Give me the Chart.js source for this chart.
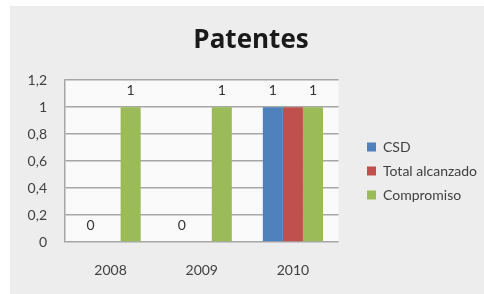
<!DOCTYPE html>
<html lang="es">
<head>
    <meta charset="UTF-8">
    <title>Patentes</title>
    <script src="https://cdn.jsdelivr.net/npm/chart.js"></script>
    <style>
        body {
            margin: 0;
            background: #ffffff;
        }
        .panel {
            position: absolute;
            left: 10px;
            top: 6px;
            width: 474px;
            height: 288px;
            background: #ededed;
        }
    </style>
</head>
<body>
    <div class="panel">
        <canvas id="patentesChart" width="474" height="288"></canvas>
    </div>

    <script>
        // Datos
        const anios = ['2008', '2009', '2010'];
        const csd = [0, 0, 1];
        const totalAlcanzado = [0, 0, 1];
        const compromiso = [1, 1, 1];

        const fuente = 'Lato, "Open Sans", sans-serif';

        // fondo claro del area de trazado
        const fondoArea = {
            id: 'fondoArea',
            beforeDraw(chart) {
                const a = chart.chartArea;
                const ctx = chart.ctx;
                ctx.save();
                ctx.fillStyle = '#fafafa';
                ctx.fillRect(a.left, a.top, a.right - a.left, a.bottom - a.top);
                ctx.restore();
            }
        };

        // etiquetas de valor encima de las barras
        const etiquetas = {
            id: 'etiquetas',
            afterDatasetsDraw(chart) {
                const ctx = chart.ctx;
                ctx.save();
                ctx.font = '14px ' + fuente;
                ctx.fillStyle = '#333333';
                ctx.textAlign = 'center';
                ctx.textBaseline = 'middle';
                chart.data.datasets.forEach((ds, i) => {
                    if (!ds.mostrarValor) return;
                    chart.getDatasetMeta(i).data.forEach((bar, j) => {
                        ctx.fillText(String(ds.data[j]), bar.x, bar.y - 17);
                    });
                });
                ctx.restore();
            }
        };

        // mover leyenda y titulo como en el original
        const mover = {
            id: 'mover',
            afterLayout(chart) {
                const l = chart.legend;
                const area = chart.chartArea;
                const dx = 357 - (area.right + 10) - (l.left - area.right);
                l.left += dx;
                l.right = chart.width;
                l.width = l.right - l.left;
                l.top += 21; l.bottom += 21;
                const t = chart.titleBlock;
                const tx = 241 - (t.left + t.right) / 2;
                t.left += tx; t.right += tx;
            }
        };

        const ctx = document.getElementById('patentesChart').getContext('2d');
        const patentesChart = new Chart(ctx, {
            type: 'bar',
            data: {
                labels: anios,
                datasets: [
                    { label: 'CSD', data: csd, backgroundColor: '#4f81bd', mostrarValor: true },
                    { label: 'Total alcanzado', data: totalAlcanzado, backgroundColor: '#c0504d', mostrarValor: false },
                    { label: 'Compromiso', data: compromiso, backgroundColor: '#9bbb59', mostrarValor: true }
                ]
            },
            options: {
                responsive: false,
                animation: false,
                categoryPercentage: 0.66,
                barPercentage: 1,
                layout: { padding: { left: 0, right: 36, top: 0, bottom: 0 } },
                plugins: {
                    title: {
                        display: true,
                        text: 'Patentes',
                        color: '#1a1a1a',
                        font: { family: '"Open Sans", sans-serif', size: 26, weight: 'bold' },
                        padding: { top: 19, bottom: 24 }
                    },
                    legend: {
                        position: 'right',
                        labels: {
                            boxWidth: 9,
                            boxHeight: 9,
                            padding: 10,
                            color: '#404040',
                            font: { family: fuente, size: 14 }
                        }
                    },
                    tooltip: { enabled: false }
                },
                scales: {
                    x: {
                        afterFit(s) { s.height = 52; },
                        grid: { display: false, drawTicks: false },
                        border: { display: false },
                        ticks: { color: '#404040', padding: 20, font: { family: fuente, size: 14 } }
                    },
                    y: {
                        min: 0,
                        max: 1.2,
                        afterFit(s) { s.width = 55; },
                        grid: { color: '#a6a6a6', lineWidth: 1.5, drawTicks: false },
                        border: { color: '#a6a6a6', width: 1.5 },
                        ticks: {
                            stepSize: 0.2,
                            padding: 18,
                            color: '#404040',
                            font: { family: fuente, size: 14 },
                            callback: v => String(Math.round(v * 10) / 10).replace('.', ',')
                        }
                    }
                }
            },
            plugins: [fondoArea, etiquetas, mover]
        });
    </script>
</body>
</html>
